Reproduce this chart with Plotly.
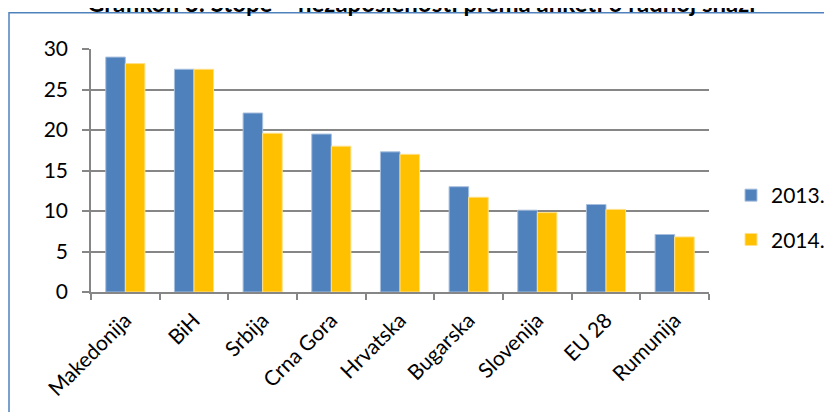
import plotly.graph_objects as go

categories = ["Makedonija", "BiH", "Srbija", "Crna Gora", "Hrvatska", "Bugarska", "Slovenija", "EU 28", "Rumunija"]
values_2013 = [29.0, 27.5, 22.1, 19.5, 17.3, 13.0, 10.1, 10.8, 7.1]
values_2014 = [28.2, 27.5, 19.6, 18.0, 17.0, 11.7, 9.8, 10.2, 6.8]
series_names = ["2013.", "2014."]
title_text = "Grafikon 3: Stope – nezaposlenosti prema anketi o radnoj snazi"
y_ticks = [0, 5, 10, 15, 20, 25, 30]

# page body has an 8px default margin; positions below are in page pixels
OFF = 8
W, H = 832 - OFF, 412 - OFF
ML = 83
MT = 41
MR = W - 701
MB = H - 284
PW = W - ML - MR
PH = H - MT - MB

FONT = "Lato, Carlito, Calibri, sans-serif"
GRID = "#868686"

fig = go.Figure()
fig.add_trace(go.Bar(
    x=categories, y=values_2013, name=series_names[0], legendgroup="a",
    marker=dict(color="#4F81BD", line=dict(color="#A7BFDE", width=1)),
))
fig.add_trace(go.Bar(
    x=categories, y=values_2014, name=series_names[1], legendgroup="b",
    marker=dict(color="#FFC000", line=dict(color="#FFE08A", width=1)),
))

def px_x(p):  # page pixel -> paper x
    return (p - OFF - ML) / PW

def px_y(p):  # page pixel -> paper y
    return 1 - (p - OFF - MT) / PH

# outer chart-area frame (left/top visible, right/bottom run off the page)
fig.add_shape(type="rect", xref="paper", yref="paper",
              x0=px_x(9), x1=px_x(860), y0=px_y(440), y1=px_y(12.7),
              line=dict(color="#4F81BD", width=1.5), fillcolor="rgba(0,0,0,0)", layer="below")

fig.add_annotation(text="<b>" + title_text + "</b>", xref="paper", yref="paper",
                   x=px_x(421), y=px_y(19.5), xanchor="center", yanchor="bottom",
                   showarrow=False, font=dict(family=FONT, size=24, color="black"))

fig.update_layout(
    width=W, height=H,
    margin=dict(l=ML, r=MR, t=MT, b=MB, autoexpand=False),
    paper_bgcolor="white", plot_bgcolor="white",
    barmode="group", bargap=0.43, bargroupgap=0,
    font=dict(family=FONT, size=21, color="black"),
    showlegend=True,
    legend=dict(x=px_x(731), y=px_y(175), xanchor="left", yanchor="top",
                traceorder="grouped", tracegroupgap=14, itemwidth=30,
                font=dict(family=FONT, size=21, color="black"),
                bgcolor="rgba(0,0,0,0)"),
    xaxis=dict(
        showline=True, linecolor=GRID, linewidth=1.5,
        ticks="outside", ticklen=6, tickcolor=GRID, tickwidth=1.5,
        tickson="boundaries", tickangle=-45, showgrid=False,
        ticklabelstandoff=6,
    ),
    yaxis=dict(
        range=[0, 30], tickvals=y_ticks, showline=True, linecolor=GRID, linewidth=1.5,
        ticks="outside", ticklen=7, tickcolor=GRID, tickwidth=1.5,
        showgrid=True, gridcolor=GRID, gridwidth=1.5, zeroline=False,
        ticklabelstandoff=10,
    ),
)

fig.write_html("out.html")
